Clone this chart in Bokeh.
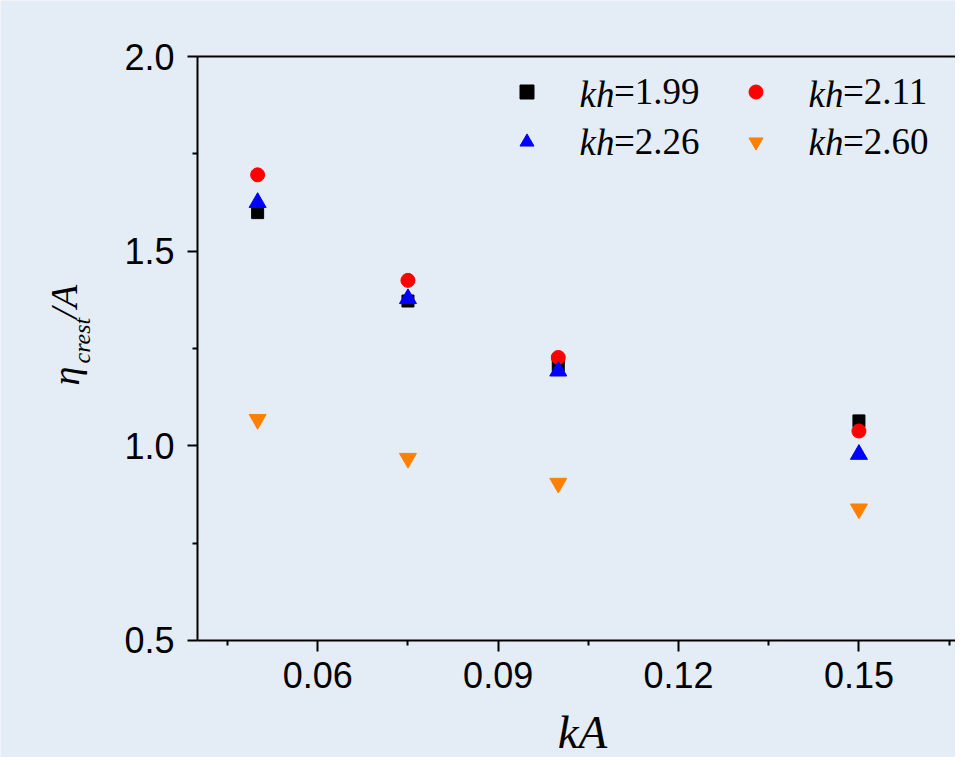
from math import pi
from bokeh.plotting import figure
from bokeh.models import (LinearAxis, FixedTicker, Label, Legend, LegendItem, Range1d,
                          NumeralTickFormatter)
from bokeh.embed import file_html
from bokeh.resources import INLINE

# ---- data ----
kA = [0.05, 0.075, 0.10, 0.15]
eta_kh199 = [1.599, 1.372, 1.207, 1.064]
eta_kh211 = [1.696, 1.425, 1.227, 1.038]
eta_kh226 = [1.625, 1.378, 1.192, 0.978]
eta_kh260 = [1.068, 0.968, 0.904, 0.838]
kh_values = ["1.99", "2.11", "2.26", "2.60"]
x_ticks = [0.06, 0.09, 0.12, 0.15]
y_ticks = [0.5, 1.0, 1.5, 2.0]
x_axis_start = 0.04

BG = "#e4ecf6"
SANS = "Liberation Sans"
SERIF = "Liberation Serif"
W, H = 955, 757

# frame covers the whole canvas; axes are drawn at fixed data locations
x_ppu = 6013.0    # pixels per x unit
y_ppu = 389.33    # pixels per y unit
left_px, top_px, bottom_px = 197, 56, 117
x_range = Range1d(x_axis_start - left_px / x_ppu, x_axis_start + (W - left_px) / x_ppu)
y_range = Range1d(y_ticks[0] - bottom_px / y_ppu, y_ticks[-1] + top_px / y_ppu)

p = figure(width=W, height=H, output_backend="svg", toolbar_location=None,
           x_range=x_range, y_range=y_range,
           background_fill_color=BG, border_fill_color=BG, min_border=0)
p.outline_line_color = None
p.grid.visible = False

x_step = x_ticks[1] - x_ticks[0]
x_minor = [t - x_step / 2 for t in x_ticks] + [x_ticks[-1] + x_step / 2]
y_step = y_ticks[1] - y_ticks[0]
y_minor = [t + y_step / 2 for t in y_ticks[:-1]]

p.xaxis.ticker = FixedTicker(ticks=x_ticks, minor_ticks=x_minor)
p.yaxis.ticker = FixedTicker(ticks=y_ticks, minor_ticks=y_minor)
p.xaxis.formatter = NumeralTickFormatter(format="0.00")
p.yaxis.formatter = NumeralTickFormatter(format="0.0")
p.xaxis.fixed_location = y_ticks[0]
p.xaxis.bounds = (x_axis_start, x_range.end)
p.yaxis.fixed_location = x_axis_start
p.yaxis.bounds = (y_ticks[0], y_ticks[-1])

for ax in (p.xaxis[0], p.yaxis[0]):
    ax.axis_line_width = 2
    ax.axis_line_color = "black"
    ax.major_tick_line_width = 2
    ax.minor_tick_line_width = 2
    ax.major_tick_in = 0
    ax.minor_tick_in = 0
    ax.minor_tick_out = 5
    ax.major_label_text_font = SANS
    ax.major_label_text_font_size = "36px"
    ax.major_label_text_color = "black"

p.xaxis.major_tick_out = 11
p.xaxis.major_label_standoff = 11
p.yaxis.major_tick_out = 10
p.yaxis.major_label_standoff = 13

top_axis = LinearAxis(ticker=FixedTicker(ticks=[]), axis_line_width=2,
                      axis_line_color="black", major_tick_line_color=None,
                      minor_tick_line_color=None, fixed_location=y_ticks[-1],
                      bounds=(x_axis_start, x_range.end))
p.add_layout(top_axis, "above")

# ---- markers ----
r1 = p.scatter(kA, eta_kh199, marker="square", size=12, color="black")
r2 = p.scatter(kA, eta_kh211, marker="circle", size=14, color="red")
r3 = p.scatter(kA, eta_kh226, marker="triangle", size=17, color="blue")
r4 = p.scatter(kA, eta_kh260, marker="inverted_triangle", size=17, color="#ff8000")
renderers = [r1, r2, r3, r4]

legend = Legend(items=[LegendItem(label="=" + v, renderers=[r]) for v, r in zip(kh_values, renderers)],
                orientation="horizontal", ncols=2,
                location=(509, 594), padding=0, margin=0, spacing=7,
                glyph_width=35, glyph_height=35, label_standoff=70, label_width=117,
                label_text_font=SERIF, label_text_font_size="37px", label_text_color="black",
                background_fill_alpha=0, border_line_color=None)
p.add_layout(legend)

# italic "kh" in front of each legend label
kh_x = [614, 843]
kh_y = [663, 615]
for i in range(4):
    p.add_layout(Label(x=kh_x[i % 2], y=kh_y[i // 2], x_units="screen", y_units="screen",
                       text="kh", text_font=SERIF, text_font_style="italic",
                       text_font_size="37px", text_color="black",
                       text_align="right", text_baseline="middle"))

# x axis title
p.add_layout(Label(x=582, y=26, x_units="screen", y_units="screen", text="kA",
                   text_font=SERIF, text_font_style="italic", text_font_size="47px",
                   text_color="black", text_align="center", text_baseline="alphabetic"))

# y axis title: eta_crest / A (three pieces, rotated)
ylab = [("η", 65, 372, "38px"), ("crest", 81, 394, "24px"), ("/A", 63, 439, "38px")]
for txt, sx, sy, fs in ylab:
    p.add_layout(Label(x=sx, y=sy, x_units="screen", y_units="screen", text=txt,
                       angle=pi / 2, text_font=SERIF, text_font_style="italic",
                       text_font_size=fs, text_color="black",
                       text_align="left", text_baseline="alphabetic"))

open("out.html", "w").write(file_html(p, INLINE))
